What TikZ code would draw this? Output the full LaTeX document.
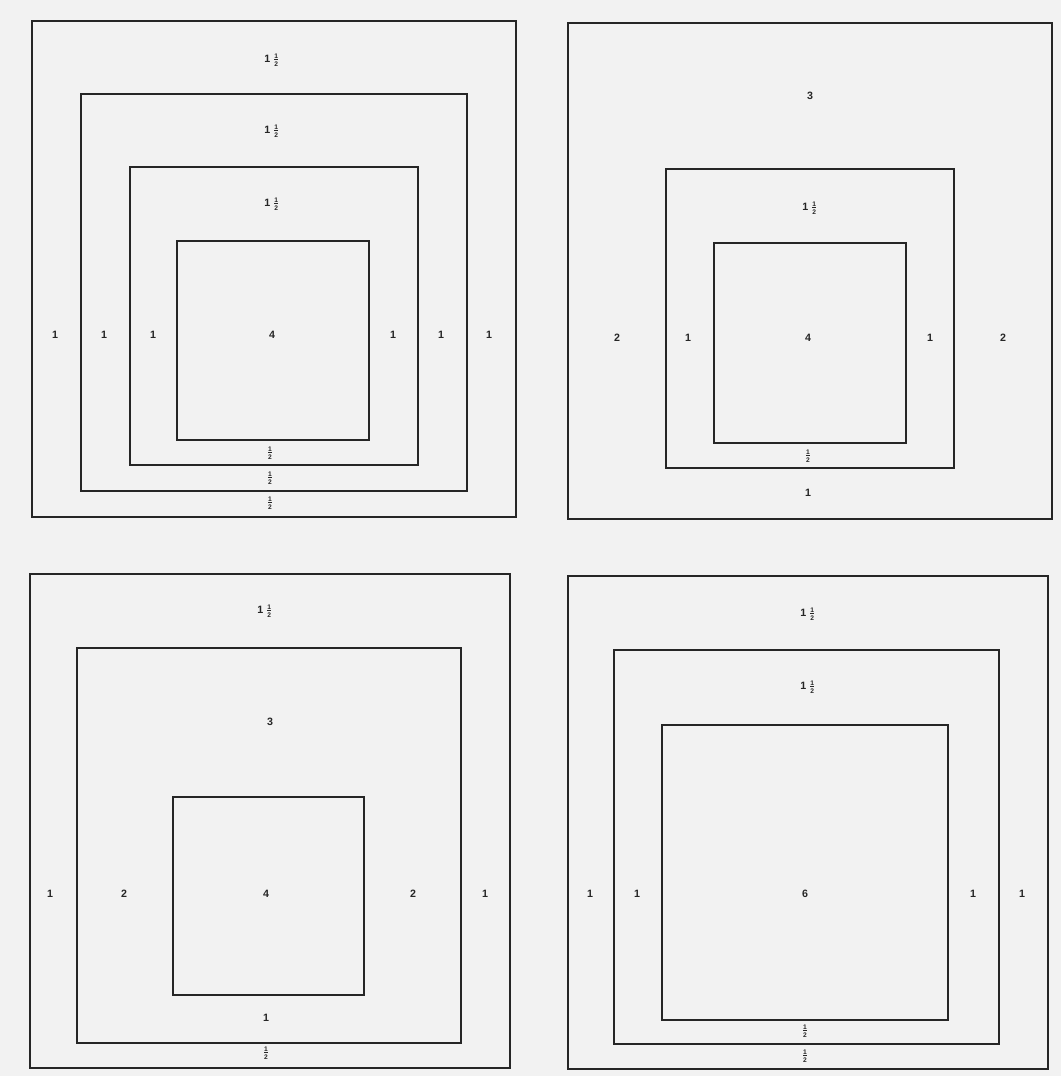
\documentclass[tikz,border=0pt]{standalone}
\usepackage{fontspec}
\setmainfont{Liberation Sans}
\newcommand\hlf{\mbox{$\frac{\mbox{\tiny\bfseries 1}}{\mbox{\tiny\bfseries 2}}$}}
\newcommand\oh{1\kern1.8pt\hlf}
\begin{document}
\begin{tikzpicture}[x=0.75pt,y=-0.75pt,
  sq/.style={draw=black!85,line width=1.4pt},
  lb/.style={font=\footnotesize\bfseries,inner sep=0pt,text=black!85}]
\fill[black!5] (0,0) rectangle (1061,1076);
\useasboundingbox (0,0) rectangle (1061,1076);
% top-left
\draw[sq] (32,21) rectangle (516,517);
\draw[sq] (81,94) rectangle (467,491);
\draw[sq] (130,167) rectangle (418,465);
\draw[sq] (177,241) rectangle (369,440);
\node[lb] (a1) at (272,60) {\oh};
\node[lb] (a2) at (272,131) {\oh};
\node[lb] (a3) at (272,204) {\oh};
\node[lb] (a4) at (55,335) {1};
\node[lb] (a5) at (104,335) {1};
\node[lb] (a6) at (153,335) {1};
\node[lb] (a7) at (272,335) {4};
\node[lb] (a8) at (393,335) {1};
\node[lb] (a9) at (441,335) {1};
\node[lb] (a10) at (489,335) {1};
\node[lb] (a11) at (270,453) {\hlf};
\node[lb] (a12) at (270,478) {\hlf};
\node[lb] (a13) at (270,503) {\hlf};
% top-right
\draw[sq] (568,23) rectangle (1052,519);
\draw[sq] (666,169) rectangle (954,468);
\draw[sq] (714,243) rectangle (906,443);
\node[lb] (b1) at (810,96) {3};
\node[lb] (b2) at (810,208) {\oh};
\node[lb] (b3) at (617,338) {2};
\node[lb] (b4) at (688,338) {1};
\node[lb] (b5) at (808,338) {4};
\node[lb] (b6) at (930,338) {1};
\node[lb] (b7) at (1003,338) {2};
\node[lb] (b8) at (808,456) {\hlf};
\node[lb] (b9) at (808,493) {1};
% bottom-left
\draw[sq] (30,574) rectangle (510,1068);
\draw[sq] (77,648) rectangle (461,1043);
\draw[sq] (173,797) rectangle (364,995);
\node[lb] (c1) at (265,611) {\oh};
\node[lb] (c2) at (270,722) {3};
\node[lb] (c3) at (50,894) {1};
\node[lb] (c4) at (124,894) {2};
\node[lb] (c5) at (266,894) {4};
\node[lb] (c6) at (413,894) {2};
\node[lb] (c7) at (485,894) {1};
\node[lb] (c8) at (266,1018) {1};
\node[lb] (c9) at (266,1053) {\hlf};
% bottom-right
\draw[sq] (568,576) rectangle (1048,1069);
\draw[sq] (614,650) rectangle (999,1044);
\draw[sq] (662,725) rectangle (948,1020);
\node[lb] (d1) at (808,614) {\oh};
\node[lb] (d2) at (808,687) {\oh};
\node[lb] (d3) at (590,894) {1};
\node[lb] (d4) at (637,894) {1};
\node[lb] (d5) at (805,894) {6};
\node[lb] (d6) at (973,894) {1};
\node[lb] (d7) at (1022,894) {1};
\node[lb] (d8) at (805,1031) {\hlf};
\node[lb] (d9) at (805,1056) {\hlf};
\end{tikzpicture}
\end{document}
